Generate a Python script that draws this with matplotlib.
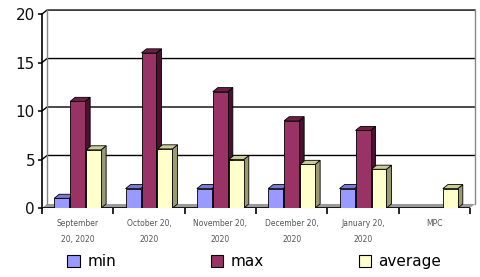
import matplotlib.pyplot as plt
from matplotlib.patches import Polygon, Patch
import numpy as np

# data
categories = ["September\n20, 2020", "October 20,\n2020", "November 20,\n2020",
              "December 20,\n2020", "January 20,\n2020", "MPC"]
min_vals = [1, 2, 2, 2, 2, np.nan]
max_vals = [11, 16, 12, 9, 8, np.nan]
avg_vals = [6, 6.1, 5, 4.5, 4, 2]

series = [
    ("min", min_vals, "#9999FF", "#6B6BC0", "#7A7AD6"),
    ("max", max_vals, "#993366", "#4A1030", "#6E1F48"),
    ("average", avg_vals, "#FFFFCC", "#9A9A70", "#CCCC99"),
]

fig = plt.figure(figsize=(4.8, 2.77), dpi=100)
ax = fig.add_axes([0.0875, 0.249, 0.8917, 0.70])

x = np.arange(len(categories))
width = 0.21
step = 0.224
dx, dy = 0.07, 0.42

ax.set_xlim(-0.5, len(categories) - 0.5)
ax.set_ylim(0, 20)

# back wall, floor, gridlines
x0, x1 = -0.5, len(categories) - 0.5
ax.add_patch(Polygon([(x0, 0), (x1, 0), (x1 + dx, dy), (x0 + dx, dy)],
                     closed=True, facecolor="#9A9A9A", edgecolor="none",
                     zorder=1, clip_on=False))
for v in [5, 10, 15, 20]:
    ax.plot([x0, x0 + dx, x1 + dx], [v, v + dy, v + dy], color="black",
            lw=1, zorder=1, clip_on=False)
ax.plot([x0 + dx, x0 + dx], [dy, 20 + dy], color="#888888", lw=1, zorder=1, clip_on=False)
ax.plot([x1 + dx, x1 + dx], [dy, 20 + dy], color="#888888", lw=1, zorder=1, clip_on=False)

# 3d-looking bars
handles = []
for i, (name, vals, face, side, top) in enumerate(series):
    bars = ax.bar(x + (i - 1) * step, vals, width, color=face,
                  edgecolor="black", linewidth=0.6, zorder=3 + 2 * i)
    for r in bars:
        h = r.get_height()
        if np.isnan(h):
            continue
        bx, bw = r.get_x(), r.get_width()
        ax.add_patch(Polygon([(bx + bw, 0), (bx + bw + dx, dy),
                              (bx + bw + dx, h + dy), (bx + bw, h)],
                             closed=True, facecolor=side, edgecolor="black",
                             linewidth=0.6, zorder=2 + 2 * i))
        ax.add_patch(Polygon([(bx, h), (bx + dx, h + dy),
                              (bx + bw + dx, h + dy), (bx + bw, h)],
                             closed=True, facecolor=top, edgecolor="black",
                             linewidth=0.6, zorder=2 + 2 * i))
    handles.append(Patch(facecolor=face, edgecolor="black", linewidth=0.8, label=name))

# axes styling
for s in ["top", "right", "bottom"]:
    ax.spines[s].set_visible(False)
ax.spines["left"].set_linewidth(1.2)
ax.axhline(0, color="black", lw=1.2, zorder=2)
ax.set_yticks([0, 5, 10, 15, 20])
ax.tick_params(axis="y", length=3, width=1.2, labelsize=11, pad=2, colors="#111111")
ax.set_xticks(np.arange(len(categories) + 1) - 0.5)
ax.set_xticklabels([])
ax.tick_params(axis="x", which="major", length=4, width=1.2, direction="out")
ax.set_xticks(x, minor=True)
ax.set_xticklabels(categories, minor=True, fontsize=5.5, color="#555555", linespacing=2.0)
ax.tick_params(axis="x", which="minor", length=0, pad=8)

fig.legend(handles=handles, loc="center", bbox_to_anchor=(0.53, 0.055), ncol=3,
           frameon=False, fontsize=11, handlelength=0.8, handleheight=0.8,
           handletextpad=0.5, columnspacing=6.2)

fig.savefig("out.png", dpi=100)
